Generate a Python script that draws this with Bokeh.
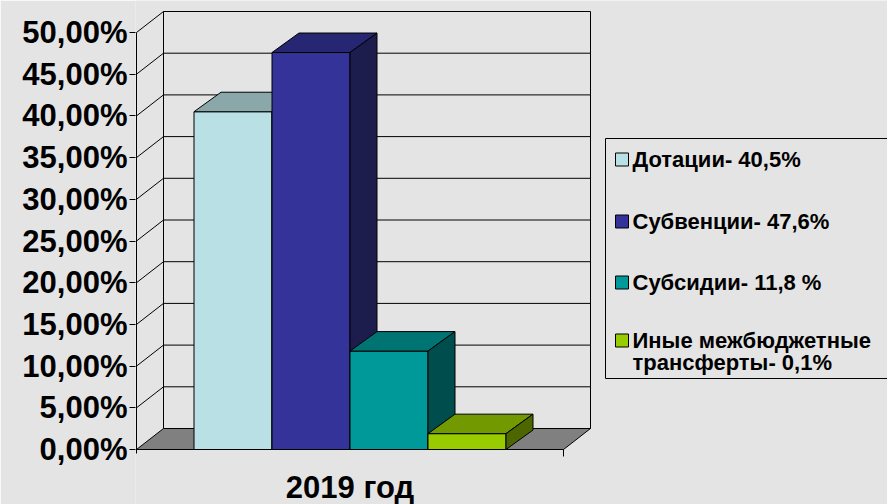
from bokeh.plotting import figure
from bokeh.models import Range1d, FixedTicker
from bokeh.core.properties import value
from bokeh.embed import file_html
from bokeh.resources import INLINE

# ---------------- data ----------------
categories = ["2019 год"]
series_names = ["Дотации", "Субвенции", "Субсидии", "Иные межбюджетные трансферты"]
legend_labels = ["Дотации- 40,5%", "Субвенции- 47,6%", "Субсидии- 11,8 %",
                 "Иные межбюджетные\nтрансферты- 0,1%"]
values = [40.5, 47.6, 11.8, 1.9]
y_ticks = [0, 5, 10, 15, 20, 25, 30, 35, 40, 45, 50]
y_tick_labels = ["0,00%", "5,00%", "10,00%", "15,00%", "20,00%", "25,00%",
                 "30,00%", "35,00%", "40,00%", "45,00%", "50,00%"]

# ---------------- styles ----------------
front_colors = ["#B9E0E4", "#333399", "#009999", "#99CC00"]
top_colors = ["#8AA8AA", "#262673", "#007373", "#739900"]
side_colors = ["#5C7072", "#1C1C4D", "#004D4D", "#4D6600"]
BG = "#E4E4E4"
FLOOR = "#808080"
FONT = "Liberation Sans"

# ---------------- layout (pixel scale of the reference) ----------------
PX_X = 427.0      # px per category unit
PX_Y = 8.34       # px per percent
X0P, Y0P = 136.0, 449.0   # page position of (0, 0)
FW, FH = 887, 504
LEFT = 135

def px(xp):
    return (xp - X0P) / PX_X

def py(yp):
    return (Y0P - yp) / PX_Y

DX = 27 / PX_X
DYW = 21 / PX_Y
DYB = 19.5 / PX_Y
W = 78 / PX_X
YMAX = y_ticks[-1]

p = figure(width=FW, height=FH, output_backend="svg", toolbar_location=None,
           x_axis_location=None, y_axis_location="left",
           min_border_left=LEFT, min_border_right=0, min_border_top=0, min_border_bottom=0,
           x_range=Range1d(px(LEFT), px(FW)), y_range=Range1d(py(FH), py(0)))
p.background_fill_color = BG
p.border_fill_color = BG
p.outline_line_color = None
p.grid.visible = False

ax = p.yaxis[0]
ax.ticker = FixedTicker(ticks=y_ticks)
ax.major_label_overrides = dict(zip(y_ticks, y_tick_labels))
ax.major_label_text_font = FONT
ax.major_label_text_font_size = "31px"
ax.major_label_text_font_style = "bold"
ax.major_label_text_color = "black"
ax.axis_line_color = None
ax.major_tick_out = 6
ax.major_tick_in = 0
ax.major_tick_line_color = "black"
ax.minor_tick_line_color = None
ax.major_label_standoff = 2

# floor
p.patch([0, 1, 1 + DX, DX], [0, 0, DYW, DYW], fill_color=FLOOR, line_color="black", line_width=1)

# walls: gridlines on back wall and side wall
xs, ys = [], []
for t in y_ticks[1:]:
    xs.append([0, DX, 1 + DX]); ys.append([t, t + DYW, t + DYW])
xs.append([DX, DX]); ys.append([DYW, YMAX + DYW])
xs.append([1 + DX, 1 + DX]); ys.append([DYW, YMAX + DYW])
xs.append([0, 0]); ys.append([py(453), YMAX])
xs.append([1, 1]); ys.append([0, py(456)])
xs.append([0, 1]); ys.append([0, 0])
p.multi_line(xs, ys, line_color="black", line_width=1)

# bars (3D)
start = 0.5 - len(values) * W / 2
for i, v in enumerate(values):
    x0 = start + i * W
    x1 = x0 + W
    p.quad(left=x0, right=x1, bottom=0, top=v, fill_color=front_colors[i],
           line_color="black", line_width=1)
    p.patch([x0, x1, x1 + DX, x0 + DX], [v, v, v + DYB, v + DYB],
            fill_color=top_colors[i], line_color="black", line_width=1)
    p.patch([x1, x1 + DX, x1 + DX, x1], [0, DYB, v + DYB, v],
            fill_color=side_colors[i], line_color="black", line_width=1)

# category label
p.text(x=[0.5], y=[py(487)], text=categories, text_font=value(FONT),
       text_font_size="31px", text_font_style="bold", text_color="black",
       text_align="center", text_baseline="middle")

# legend (manual)
p.quad(left=px(605), right=px(900), top=py(138), bottom=py(378),
       fill_color=None, line_color="black", line_width=1)
entry_y = [159, 221, 282, 340]
line_gap = 22
mx, my, tx, ty, tt = [], [], [], [], []
for i, lab in enumerate(legend_labels):
    mx.append(px(621.5)); my.append(py(entry_y[i]))
    for k, line in enumerate(lab.split("\n")):
        tx.append(px(632)); ty.append(py(entry_y[i] + k * line_gap)); tt.append(line)
p.rect(x=mx, y=my, width=13, height=13, width_units="screen", height_units="screen",
       fill_color=front_colors, line_color="black", line_width=1)
p.text(x=tx, y=ty, text=tt, text_font=value(FONT), text_font_size="22px",
       text_font_style="bold", text_color="black", text_align="left",
       text_baseline="middle")

open("out.html", "w").write(file_html(p, INLINE))
